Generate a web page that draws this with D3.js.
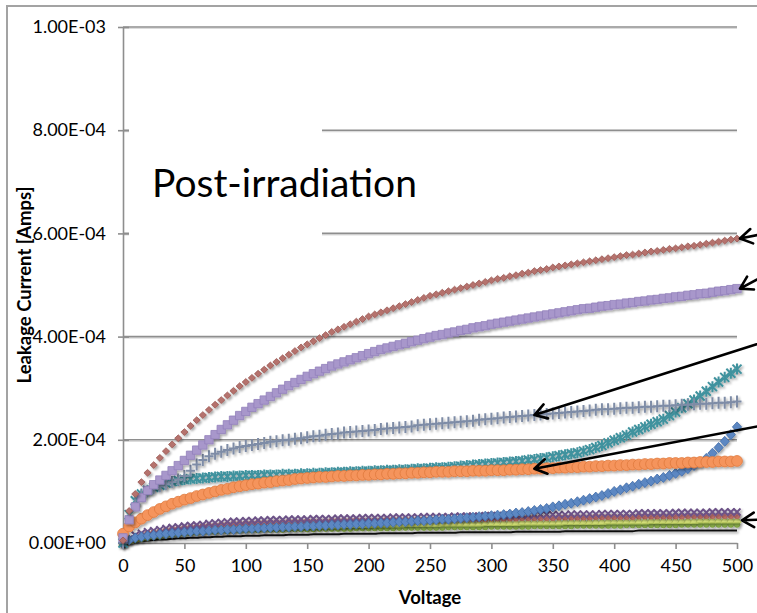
<!DOCTYPE html>
<html>
<head>
<meta charset="utf-8">
<script src="https://cdn.jsdelivr.net/npm/d3@7"></script>
<style>
  html, body { margin: 0; padding: 0; background: #fff; }
  svg { display: block; font-family: Lato, "Open Sans", sans-serif; }
</style>
</head>
<body>
<svg id="chart" width="757" height="613"></svg>
<script>
// Bias voltage steps (V)
const voltage = [
  0,5,10,15,20,25,30,35,40,45,
  50,55,60,65,70,75,80,85,90,95,
  100,105,110,115,120,125,130,135,140,145,
  150,155,160,165,170,175,180,185,190,195,
  200,205,210,215,220,225,230,235,240,245,
  250,255,260,265,270,275,280,285,290,295,
  300,305,310,315,320,325,330,335,340,345,
  350,355,360,365,370,375,380,385,390,395,
  400,405,410,415,420,425,430,435,440,445,
  450,455,460,465,470,475,480,485,490,495,
  500];

// Leakage current per sensor, in microamps, one value per voltage step
const sensor1 = [
  5,62,95,118,136,151,165,178,191,203,
  215,227,238,248,258,268,277,286,295,304,
  312,320,328,336,344,351,358,365,372,379,
  385,391,397,403,409,414,419,424,429,434,
  439,443,447,451,455,459,463,467,471,475,
  479,482,485,488,491,494,497,500,503,506,
  509,512,514,517,519,522,524,527,529,531,
  534,536,538,540,542,544,546,548,550,552,
  554,556,558,559,561,563,565,566,568,570,
  571,573,575,576,578,580,582,584,586,588,
  590];
const sensor2 = [
  10,45,70,88,102,113,122,131,140,150,
  160,170,180,190,200,210,220,229,238,247,
  255,263,270,277,284,291,298,305,311,317,
  323,328,333,338,343,347,351,355,359,363,
  367,371,375,378,381,384,387,390,393,396,
  399,402,404,407,409,412,414,417,419,421,
  424,426,428,430,432,434,436,438,440,442,
  444,446,448,450,452,454,455,457,459,460,
  462,463,465,466,468,469,471,472,474,475,
  477,478,480,481,483,484,486,488,489,491,
  493];
const sensor3 = [
  0,45,75,92,100,106,110,114,118,123,
  130,140,152,161,168,173,177,180,183,186,
  188,190,192,194,196,197,199,200,202,203,
  205,207,208,210,211,212,214,215,216,217,
  218,219,221,222,223,224,225,226,228,229,
  230,231,232,233,234,235,236,237,239,240,
  241,242,243,244,245,246,247,248,249,250,
  251,252,253,254,255,256,257,258,259,259,
  260,261,262,262,263,264,264,265,266,266,
  267,268,268,269,270,270,271,272,272,273,
  274];
const sensor4 = [
  0,55,82,95,102,108,112,116,119,121,
  123,124,125,126,127,128,129,129,130,130,
  131,131,131,132,132,132,133,133,133,134,
  134,135,135,136,136,137,137,138,138,139,
  139,140,140,141,141,142,142,143,144,144,
  145,146,146,147,148,149,150,151,152,153,
  154,155,156,157,158,159,161,162,164,165,
  167,169,171,173,175,178,181,185,189,194,
  199,204,209,215,220,225,230,235,240,247,
  254,262,270,277,285,294,303,312,321,329,
  337];
const sensor5 = [
  18,32,40,47,54,60,66,71,76,80,
  84,87,91,94,97,100,103,105,108,110,
  112,114,115,117,118,120,121,122,124,125,
  126,127,128,128,129,130,130,131,131,132,
  132,133,133,134,134,135,135,136,136,137,
  137,138,138,138,139,139,139,140,140,140,
  141,141,141,142,142,143,143,144,144,145,
  145,146,146,147,147,148,148,149,149,150,
  150,151,151,152,152,153,153,154,154,155,
  155,155,156,156,157,157,157,158,158,158,
  159];
const sensor6 = [
  0,6,10,12,14,15,17,18,19,20,
  21,22,23,23,24,25,25,26,26,27,
  28,28,29,29,30,30,31,31,32,32,
  33,33,34,34,35,35,36,36,37,37,
  38,38,39,39,40,41,41,42,43,43,
  44,45,46,46,47,48,49,50,51,52,
  53,54,55,56,58,59,61,63,65,67,
  70,72,75,77,80,83,86,89,92,96,
  100,103,107,110,114,117,120,124,127,131,
  135,139,144,150,156,164,174,185,197,210,
  225];
const sensor7 = [
  0,8,15,19,22,24,26,28,30,31,
  33,34,35,36,38,39,40,41,42,42,
  43,43,44,44,45,45,45,46,46,46,
  46,47,47,47,47,48,48,48,48,49,
  49,49,49,49,50,50,50,50,50,51,
  51,51,51,51,52,52,52,52,52,53,
  53,53,53,54,54,54,54,54,55,55,
  55,55,55,56,56,56,56,56,57,57,
  57,57,57,57,58,58,58,58,58,58,
  59,59,59,59,59,59,60,60,60,60,
  60];
const sensor8 = [
  0,6,11,15,18,20,22,24,26,27,
  29,30,31,32,33,34,35,36,37,37,
  38,38,39,39,40,40,40,41,41,41,
  42,42,42,42,43,43,43,43,44,44,
  44,44,44,45,45,45,45,45,46,46,
  46,46,46,46,47,47,47,47,47,47,
  48,48,48,48,48,49,49,49,49,49,
  49,50,50,50,50,50,50,51,51,51,
  51,51,51,51,52,52,52,52,52,52,
  52,52,53,53,53,53,53,53,53,53,
  53];
const sensor9 = [
  0,4,8,11,14,16,17,19,20,22,
  23,24,25,26,27,27,28,28,29,29,
  30,30,31,31,31,32,32,32,33,33,
  33,33,34,34,34,34,35,35,35,35,
  35,36,36,36,36,36,37,37,37,37,
  37,37,38,38,38,38,38,38,38,39,
  39,39,39,39,39,40,40,40,40,40,
  40,40,41,41,41,41,41,41,41,42,
  42,42,42,42,42,42,43,43,43,43,
  43,43,43,43,44,44,44,44,44,44,
  44];
const sensor10 = [
  0,3,6,8,10,12,13,15,16,17,
  18,19,20,21,22,22,23,23,24,24,
  25,25,25,26,26,26,26,27,27,27,
  27,27,28,28,28,28,28,28,29,29,
  29,29,29,29,29,30,30,30,30,30,
  30,30,30,31,31,31,31,31,31,31,
  32,32,32,32,32,32,32,33,33,33,
  33,33,33,33,34,34,34,34,34,34,
  34,34,35,35,35,35,35,35,35,35,
  35,36,36,36,36,36,36,36,36,36,
  36];
const sensor11 = [
  0,2,3,4,5,6,7,7,8,9,
  9,10,10,11,11,12,12,13,13,13,
  14,14,14,15,15,15,15,16,16,16,
  16,17,17,17,17,17,18,18,18,18,
  18,18,19,19,19,19,19,19,20,20,
  20,20,20,20,20,21,21,21,21,21,
  21,21,21,21,22,22,22,22,22,22,
  22,22,23,23,23,23,23,23,23,23,
  23,23,23,23,24,24,24,24,24,24,
  24,24,24,24,24,24,24,24,24,24,
  24];

// Axis ticks
const xTicks = [0,50,100,150,200,250,300,350,400,450,500];
const yTicks = [0, 2e-4, 4e-4, 6e-4, 8e-4, 1e-3];
const yTickLabels = ["0.00E+00","2.00E-04","4.00E-04","6.00E-04","8.00E-04","1.00E-03"];

// Arrow call-outs: which curve, at which voltage the head sits
const arrowSeries = ["sensor1","sensor2","sensor3","sensor5","sensor9"];
const arrowVoltage = [500, 500, 335, 335, 500];

// ---- drawing ----
const plot = { left: 123, right: 737, top: 27, bottom: 543 };
const svg = d3.select("#chart");

const x = d3.scaleLinear().domain([0, 500]).range([plot.left, plot.right]);
const y = d3.scaleLinear().domain([0, 1e-3]).range([plot.bottom, plot.top]);
const toAmps = v => v * 1e-6;

const defs = svg.append("defs");
const shadow = defs.append("filter").attr("id", "shadow")
  .attr("x", "-20%").attr("y", "-20%").attr("width", "140%").attr("height", "140%");
shadow.append("feDropShadow").attr("dx", 1.6).attr("dy", 1.8)
  .attr("stdDeviation", 1.2).attr("flood-color", "#000").attr("flood-opacity", 0.35);

// outer chart frame
svg.append("rect").attr("x", 7).attr("y", 6).attr("width", 800).attr("height", 700)
  .attr("fill", "#fff").attr("stroke", "#a3a3a3").attr("stroke-width", 2);

// horizontal gridlines
const grid = svg.append("g");
yTicks.filter(t => t > 0).forEach(t => {
  grid.append("line").attr("x1", plot.left).attr("x2", plot.right)
    .attr("y1", y(t) + 1.5).attr("y2", y(t) + 1.5)
    .attr("stroke", "#dcdcdc").attr("stroke-width", 1.2);
  grid.append("line").attr("x1", plot.left).attr("x2", plot.right)
    .attr("y1", y(t)).attr("y2", y(t))
    .attr("stroke", "#8e8e8e").attr("stroke-width", 1.6);
});

// white text box behind the title overlays the gridlines
svg.append("rect").attr("x", plot.left + 6).attr("y", 118)
  .attr("width", 193).attr("height", 124).attr("fill", "#fff");

// y axis
const yAxis = d3.axisLeft(y).tickValues(yTicks)
  .tickFormat((d, i) => yTickLabels[i]).tickSizeInner(0).tickSizeOuter(0).tickPadding(17);
const gy = svg.append("g").attr("transform", `translate(${plot.left},0)`).call(yAxis);
gy.select(".domain").attr("stroke", "#8e8e8e").attr("stroke-width", 1.6);
gy.selectAll(".tick").append("line").attr("x1", -5).attr("x2", 6)
  .attr("stroke", "#8e8e8e").attr("stroke-width", 1.6);
gy.selectAll("text").attr("font-size", 18).attr("fill", "#000")
  .attr("font-family", "Lato, sans-serif");

// x axis
const xAxis = d3.axisBottom(x).tickValues(xTicks).tickSize(6).tickSizeOuter(0).tickPadding(10);
const gx = svg.append("g").attr("transform", `translate(0,${plot.bottom})`).call(xAxis);
gx.select(".domain").attr("stroke", "#8e8e8e").attr("stroke-width", 1.6);
gx.selectAll(".tick line").attr("stroke", "#8e8e8e").attr("stroke-width", 1.6);
gx.selectAll("text").attr("font-size", 18).attr("fill", "#000")
  .attr("font-family", "Lato, sans-serif");

// axis titles
svg.append("text").attr("x", (plot.left + plot.right) / 2).attr("y", 604)
  .attr("text-anchor", "middle").attr("font-weight", "bold").attr("font-size", 18.5)
  .text("Voltage");
svg.append("text").attr("transform", `translate(31,${(plot.top + plot.bottom) / 2}) rotate(-90)`)
  .attr("text-anchor", "middle").attr("font-weight", "bold").attr("font-size", 18.5)
  .text("Leakage Current [Amps]");

// marker shapes
const shapes = {
  circle:   { d: d3.symbol(d3.symbolCircle, 92)(), fill: true },
  square:   { d: d3.symbol(d3.symbolSquare, 70)(), fill: true },
  smallDiamond: { d: "M0,-3.4L3.6,0L0,3.4L-3.6,0Z", fill: true },
  diamond:  { d: "M0,-5L4.6,0L0,5L-4.6,0Z", fill: true },
  plus:     { d: "M0,-6V6M-4.5,0H4.5", fill: false },
  star:     { d: "M0,-5.5V5.5M-4.5,-4.5L4.5,4.5M-4.5,4.5L4.5,-4.5", fill: false },
  cross:    { d: "M-3.5,-3.5L3.5,3.5M-3.5,3.5L3.5,-3.5", fill: false },
  triangle: { d: d3.symbol(d3.symbolTriangle, 30)(), fill: true },
  dot:      { d: d3.symbol(d3.symbolCircle, 26)(), fill: true }
};

// series in drawing order (first is at the bottom)
const series = [
  { name: "sensor11", values: sensor11, shape: null,       color: "#111111", edge: "#111111" },
  { name: "sensor10", values: sensor10, shape: "dot",      color: "#8fb44c", edge: "#77983c" },
  { name: "sensor9",  values: sensor9,  shape: "triangle", color: "#d6e27a", edge: "#b3c25a" },
  { name: "sensor8",  values: sensor8,  shape: "dot",      color: "#d07c78", edge: "#b45e5a" },
  { name: "sensor7",  values: sensor7,  shape: "cross",    color: "#6d5388", edge: "#6d5388" },
  { name: "sensor6",  values: sensor6,  shape: "diamond",  color: "#5b87c2", edge: "#3f6ba8" },
  { name: "sensor4",  values: sensor4,  shape: "star",     color: "#3f929e", edge: "#3f929e" },
  { name: "sensor3",  values: sensor3,  shape: "plus",     color: "#7e8ca6", edge: "#7e8ca6" },
  { name: "sensor5",  values: sensor5,  shape: "circle",   color: "#f5945c", edge: "#e07a3e" },
  { name: "sensor2",  values: sensor2,  shape: "square",   color: "#a897cb", edge: "#9381bb" },
  { name: "sensor1",  values: sensor1,  shape: "smallDiamond", color: "#b5726d", edge: "#9a5853" }
];

const marks = svg.append("g");
series.forEach(s => {
  const pts = voltage.map((v, i) => [x(v), y(toAmps(s.values[i]))]);
  const g = marks.append("g").attr("filter", "url(#shadow)");
  if (!s.shape) {
    g.append("path").attr("d", d3.line().curve(d3.curveMonotoneX)(pts))
      .attr("fill", "none").attr("stroke", s.color).attr("stroke-width", 2);
    return;
  }
  const sh = shapes[s.shape];
  g.selectAll("path").data(pts).join("path")
    .attr("transform", p => `translate(${p[0]},${p[1]})`)
    .attr("d", sh.d)
    .attr("fill", sh.fill ? s.color : "none")
    .attr("stroke", sh.fill ? s.edge : s.color)
    .attr("stroke-width", sh.fill ? 0.8 : 2);
});

// title inside the plot
svg.append("text").attr("x", 152).attr("y", 197).attr("font-size", 39)
  .attr("fill", "#000").text("Post-irradiation");

// arrows pointing at curves from the right-hand side
const tails = [[30, -6], [30, -16], [232, -74], [232, -44], [30, -1]];
const headGap = [3, 3, 0, 0, 5];
const arrows = svg.append("g");
arrowSeries.forEach((name, k) => {
  const s = series.find(d => d.name === name);
  const i = voltage.indexOf(arrowVoltage[k]);
  const tip = [x(voltage[i]) + headGap[k], y(toAmps(s.values[i]))];
  const tail = [tip[0] + tails[k][0], tip[1] + tails[k][1]];
  const ang = Math.atan2(tail[1] - tip[1], tail[0] - tip[0]);
  const L = 14, spread = 0.55;
  const a1 = [tip[0] + L * Math.cos(ang - spread), tip[1] + L * Math.sin(ang - spread)];
  const a2 = [tip[0] + L * Math.cos(ang + spread), tip[1] + L * Math.sin(ang + spread)];
  arrows.append("path")
    .attr("d", `M${tail[0]},${tail[1]}L${tip[0]},${tip[1]}M${a1[0]},${a1[1]}L${tip[0]},${tip[1]}L${a2[0]},${a2[1]}`)
    .attr("fill", "none").attr("stroke", "#000").attr("stroke-width", 2.6)
    .attr("stroke-linecap", "round").attr("stroke-linejoin", "round");
});
</script>
</body>
</html>
